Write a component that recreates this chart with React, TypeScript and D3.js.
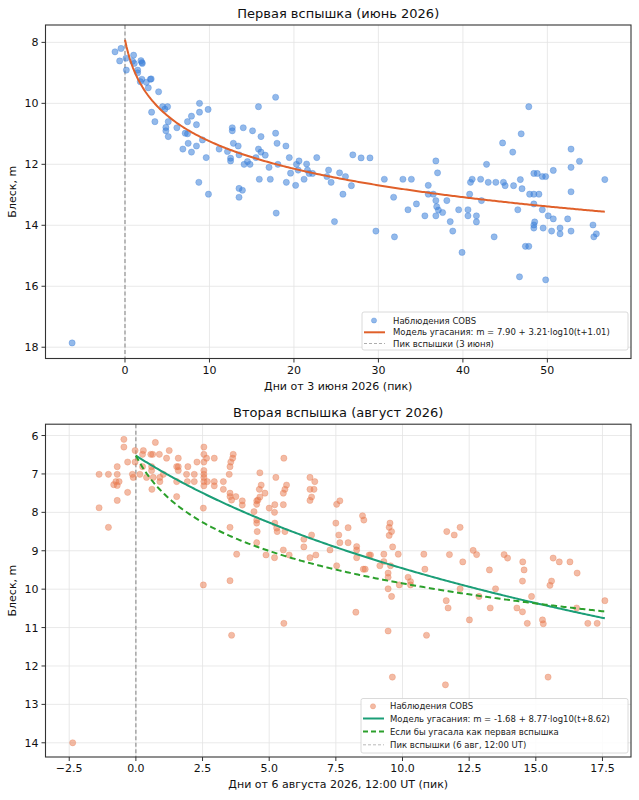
import React from "react";
import * as d3 from "d3";

const FONT = '"DejaVu Sans", "Liberation Sans", sans-serif';

// ---------- Flare 1 (June 2026) ----------
const flare1Obs: [number, number][] = [
  [-6.26, 17.86],
  [-1.18, 8.31], [-0.47, 8.2], [-0.63, 8.61], [0.12, 8.52], [0.16, 8.91], [1.02, 8.42], [1.1, 8.69], [0.9, 8.62],
  [1.5, 8.91], [1.5, 9.0], [1.89, 8.6], [2.05, 8.69], [2.0, 8.66], [2.0, 9.21], [3.0, 9.21], [3.1, 9.2], [1.81, 9.29],
  [2.52, 9.31], [2.76, 9.49], [3.98, 9.62], [4.45, 10.11], [4.72, 10.19], [5.04, 10.11], [3.15, 10.29], [3.54, 10.6],
  [4.84, 10.79], [4.84, 10.9], [5.12, 10.6], [5.12, 11.09], [6.14, 10.8], [7.13, 10.98], [7.4, 11.0], [7.4, 10.6],
  [7.87, 10.42], [8.82, 10.0], [8.82, 10.29], [9.84, 10.2], [8.46, 10.7], [6.85, 11.5], [7.48, 11.31], [7.87, 11.6],
  [8.46, 11.4], [9.17, 11.2], [9.61, 11.78], [8.74, 12.59], [9.88, 12.98], [11.14, 11.5], [12.13, 11.58], [12.5, 11.8],
  [12.5, 11.89], [12.7, 10.8], [12.7, 10.9], [12.83, 11.31], [13.4, 11.4], [13.5, 11.69], [14.0, 10.8], [14.1, 12.0],
  [14.5, 11.91], [14.8, 12.0], [15.1, 10.9], [15.5, 11.78], [15.8, 10.11], [15.8, 11.5], [16.1, 11.09], [16.1, 11.6],
  [16.6, 11.7], [15.9, 12.49], [17.05, 12.1], [17.2, 12.49], [17.83, 9.8], [17.83, 10.98], [18.0, 11.31], [18.1, 12.0],
  [19.05, 11.4], [19.45, 11.78], [19.6, 12.29], [19.1, 12.59], [20.2, 12.69], [20.3, 12.0], [20.6, 11.89], [13.5, 12.79],
  [13.5, 13.08], [17.9, 13.6], [13.9, 12.85],
  [20.5, 12.19], [21.2, 12.49], [21.5, 11.99], [21.6, 12.19], [21.8, 12.3], [22.2, 12.3], [22.7, 11.78], [23.9, 12.4],
  [24.1, 12.19], [24.4, 12.59], [24.8, 13.88], [25.4, 12.28], [25.8, 12.98], [26.1, 12.4], [26.8, 12.7], [26.97, 11.69],
  [27.95, 11.79], [29.0, 11.79], [29.7, 14.19], [30.7, 12.49], [31.8, 13.08], [31.9, 14.38], [32.9, 12.49], [33.5, 13.49],
  [33.9, 12.49], [34.5, 13.3], [35.5, 13.69], [35.9, 12.69], [35.9, 12.98], [36.5, 12.98], [36.8, 11.89], [37.0, 12.28],
  [36.8, 13.19], [36.9, 13.39], [37.1, 13.5], [36.8, 13.69], [37.6, 13.58], [38.1, 13.19], [38.5, 13.88], [38.8, 14.19],
  [39.5, 13.49], [39.9, 14.89], [40.6, 13.49], [40.6, 13.69], [40.8, 12.98], [40.9, 12.59], [41.1, 12.49], [41.6, 13.69],
  [41.6, 13.89], [42.1, 12.49], [42.2, 13.19], [42.8, 12.0], [43.0, 12.59],
  [43.7, 14.38], [43.9, 12.59], [44.7, 11.3], [44.8, 12.59], [45.0, 12.7], [45.9, 11.6], [46.0, 12.7], [46.5, 13.49],
  [46.8, 12.5], [46.9, 11.0], [47.0, 12.8], [46.7, 15.69], [47.4, 14.69], [47.8, 14.69], [47.8, 10.11], [47.9, 12.98],
  [48.4, 12.98], [48.4, 12.3], [48.8, 12.3], [49.0, 12.98], [48.4, 13.3], [48.5, 13.89], [48.4, 13.99], [48.4, 14.09],
  [49.4, 13.49], [49.4, 12.4], [49.8, 12.4], [49.5, 14.09], [49.8, 15.79], [50.1, 13.69], [50.5, 14.19], [50.7, 12.2],
  [50.7, 13.79], [51.5, 14.09], [51.5, 14.28], [52.4, 13.79], [52.8, 11.5], [52.8, 12.1], [52.8, 12.9], [52.8, 14.19],
  [53.8, 11.9], [55.4, 13.99], [55.5, 14.38], [55.8, 14.28], [56.8, 12.5],
];
const flare1Model = { a: 7.9, b: 3.21, c: 1.01 };
const flare1XTicks = [0, 10, 20, 30, 40, 50];
const flare1YTicks = [8, 10, 12, 14, 16, 18];

// ---------- Flare 2 (August 2026) ----------
const flare2Obs: [number, number][] = [
  [-2.37, 14.0],
  [-0.45, 6.1], [-0.45, 6.3], [0.73, 6.18], [-0.03, 6.39], [0.28, 6.39], [0.25, 6.49], [0.56, 6.49], [0.63, 6.49],
  [0.88, 6.49], [1.25, 6.39], [1.15, 6.59], [1.59, 6.59], [-0.31, 6.69], [-0.03, 6.69], [-0.7, 6.81], [-1.38, 7.01],
  [-1.03, 7.01], [-0.7, 7.01], [-0.13, 7.01], [-0.1, 7.09], [0.15, 7.01], [0.4, 7.09], [0.25, 6.81], [0.59, 6.81],
  [0.59, 6.91], [0.65, 7.09], [0.9, 7.09], [0.9, 7.2], [1.03, 7.01], [0.6, 7.4], [-0.83, 7.28], [-0.63, 7.2],
  [-0.75, 7.2], [-0.7, 7.3], [-0.31, 7.48], [-0.7, 7.69], [-1.38, 7.88], [-1.03, 8.39], [1.53, 6.81], [1.59, 6.81],
  [1.59, 6.91], [1.53, 7.2], [1.53, 7.59], [1.9, 7.01], [1.93, 7.2], [1.95, 6.81], [2.19, 7.2], [2.19, 7.01],
  [2.29, 6.69], [2.55, 6.3], [2.55, 6.49], [2.55, 6.69], [2.55, 6.91], [2.55, 7.01], [2.55, 7.09], [2.55, 7.2],
  [2.55, 7.31], [2.65, 6.59], [2.94, 6.59], [2.68, 7.2], [2.94, 7.2], [2.94, 7.31], [2.53, 7.89], [2.53, 9.89],
  [3.28, 7.4], [3.28, 7.2], [3.5, 7.01], [3.53, 6.81], [3.56, 6.69], [3.63, 6.59], [3.65, 6.49], [3.53, 7.5],
  [3.53, 7.59], [3.59, 7.68], [3.75, 7.59], [3.99, 7.7], [3.99, 7.81], [3.53, 8.39], [3.78, 9.09], [3.53, 9.78],
  [3.59, 11.2],
  [5.55, 6.59], [4.65, 6.97], [5.25, 7.09], [6.53, 7.09], [6.71, 7.2], [4.7, 7.29], [5.65, 7.29], [5.59, 7.4],
  [5.53, 7.5], [6.53, 7.4], [6.68, 7.4], [4.63, 7.4], [4.84, 7.5], [6.59, 7.6], [6.53, 7.69], [4.65, 7.6],
  [4.53, 7.7], [4.53, 7.79], [4.58, 7.68], [5.21, 7.8], [5.53, 7.8], [5.0, 7.89], [7.65, 7.7], [7.53, 7.79],
  [4.43, 7.98], [5.2, 8.0], [4.53, 8.2], [4.53, 8.28], [4.55, 8.5], [5.21, 8.28], [5.28, 8.41], [5.3, 8.5],
  [5.59, 8.5], [4.53, 8.79], [4.88, 9.11], [5.2, 9.18], [5.53, 8.98], [5.75, 9.11], [6.3, 8.7], [6.59, 8.59],
  [6.3, 8.9], [6.53, 9.18], [6.75, 9.11], [7.28, 8.98], [7.5, 8.28], [7.61, 8.59], [7.96, 8.4], [7.65, 8.79],
  [7.96, 8.79], [7.53, 9.39], [8.28, 8.89], [8.28, 8.98], [8.28, 9.18], [8.5, 8.09], [8.55, 8.2], [8.75, 9.11],
  [8.8, 9.11], [8.53, 9.48], [8.6, 9.48], [8.25, 10.6], [9.15, 9.39], [9.3, 9.09], [9.3, 9.28], [9.53, 8.28],
  [9.5, 8.39], [9.59, 8.5], [9.5, 8.6], [9.63, 8.9], [9.84, 9.09], [9.55, 9.39], [9.46, 9.58], [9.46, 9.69],
  [9.46, 9.99], [9.59, 10.19], [9.46, 11.09], [9.88, 9.89], [10.21, 9.69], [10.3, 9.8], [10.3, 9.89], [10.8, 9.09],
  [10.84, 9.48], [10.9, 11.2], [5.55, 10.89], [9.62, 12.29], [11.61, 12.49],
  [11.66, 8.5], [11.94, 8.59], [12.16, 8.39], [11.76, 9.1], [12.26, 9.29], [12.65, 8.99], [12.78, 9.1], [13.26, 9.5],
  [13.81, 9.1], [13.94, 9.19], [14.51, 9.29], [14.56, 9.5], [14.5, 9.79], [15.65, 9.19], [15.88, 9.29], [16.28, 9.29],
  [16.55, 9.58], [15.59, 9.79], [15.53, 9.9], [13.49, 9.99], [14.84, 10.19], [12.87, 10.19], [12.16, 9.99],
  [11.64, 10.3], [11.71, 10.49], [12.51, 10.8], [13.29, 10.49], [14.29, 10.49], [14.5, 10.59], [14.68, 10.89],
  [15.25, 10.8], [15.28, 10.9], [16.53, 10.49], [16.95, 10.89], [17.3, 10.89], [17.59, 10.3], [15.46, 12.29],
];
const flare2Model = { a: -1.68, b: 8.77, c: 8.62 };
const flare2AsFirst = { a: 6.506, b: 3.21, c: 1.01 };
const flare2XTicks = [-2.5, 0, 2.5, 5, 7.5, 10, 12.5, 15, 17.5];
const flare2YTicks = [6, 7, 8, 9, 10, 11, 12, 13, 14];

const BLUE = "#3a7fd8";
const ORANGE_LINE = "#e0602a";
const ORANGE_PTS = "#e8784c";
const GREEN = "#1b9e77";
const GREEN_DASH = "#2ca02c";
const GRAY = "#8a8a8a";

type Curve = { m: { a: number; b: number; c: number }; color: string; dash?: string };
type LegendItem = { kind: "pt" | "line"; color: string; dash?: string; width: number; label: string; opacity?: number };

const modelPoints = (m: { a: number; b: number; c: number }, tMax: number) =>
  d3.range(0, tMax, tMax / 300).concat([tMax]).map((t) => [t, m.a + m.b * Math.log10(t + m.c)] as [number, number]);

function Panel(props: {
  top: number; bottom: number; left: number; right: number;
  xDomain: [number, number]; yDomain: [number, number];
  xTicks: number[]; yTicks: number[]; xFmt: (v: number) => string;
  title: string; xLabel: string;
  obs: [number, number][]; ptColor: string; ptOpacity: number; curves: Curve[];
  legend: { x0: number; x1: number; y0: number; y1: number; rows: number[]; textX: number; items: LegendItem[] };
}) {
  const { top, bottom, left, right, obs, legend } = props;
  const x = d3.scaleLinear().domain(props.xDomain).range([left, right]);
  const y = d3.scaleLinear().domain(props.yDomain).range([top, bottom]);
  const tMax = d3.max(obs, (d) => d[0]) as number;
  const line = d3.line<[number, number]>().x((d) => x(d[0])).y((d) => y(d[1]));
  const cy = (top + bottom) / 2;
  return (
    <g>
      <text x={(left + right) / 2} y={top - 7} textAnchor="middle" fontSize={13} fill="#111">{props.title}</text>
      {props.xTicks.map((t) => (
        <line key={"gx" + t} x1={x(t)} x2={x(t)} y1={top} y2={bottom} stroke="#e3e3e3" strokeWidth={0.8} />
      ))}
      {props.yTicks.map((t) => (
        <line key={"gy" + t} x1={left} x2={right} y1={y(t)} y2={y(t)} stroke="#e3e3e3" strokeWidth={0.8} />
      ))}
      <line x1={x(0)} x2={x(0)} y1={top} y2={bottom} stroke={GRAY} strokeWidth={1.1} strokeDasharray="4,2.5" />
      {obs.map((d, i) => (
        <circle key={i} cx={x(d[0])} cy={y(d[1])} r={3.1} fill={props.ptColor} fillOpacity={props.ptOpacity}
          stroke={props.ptColor} strokeOpacity={props.ptOpacity} strokeWidth={0.6} />
      ))}
      {props.curves.map((c, i) => (
        <path key={i} d={line(modelPoints(c.m, tMax)) || ""} fill="none" stroke={c.color} strokeWidth={2}
          strokeDasharray={c.dash} />
      ))}
      <rect x={left} y={top} width={right - left} height={bottom - top} fill="none" stroke="#333" strokeWidth={1.1} />
      {props.xTicks.map((t) => (
        <g key={"tx" + t}>
          <line x1={x(t)} x2={x(t)} y1={bottom} y2={bottom + 4} stroke="#333" />
          <text x={x(t)} y={bottom + 15} textAnchor="middle" fontSize={11} fill="#111">{props.xFmt(t)}</text>
        </g>
      ))}
      {props.yTicks.map((t) => (
        <g key={"ty" + t}>
          <line x1={left - 4} x2={left} y1={y(t)} y2={y(t)} stroke="#333" />
          <text x={left - 7} y={y(t) + 4} textAnchor="end" fontSize={11} fill="#111">{t}</text>
        </g>
      ))}
      <text x={(left + right) / 2} y={bottom + 31} textAnchor="middle" fontSize={11} fill="#111">{props.xLabel}</text>
      <text transform={`translate(16,${cy}) rotate(-90)`} textAnchor="middle" fontSize={11} fill="#111">Блеск, m</text>
      <rect x={legend.x0} y={legend.y0} width={legend.x1 - legend.x0} height={legend.y1 - legend.y0} rx={2}
        fill="#fff" fillOpacity={0.85} stroke="#d0d0d0" strokeWidth={0.8} />
      {legend.items.map((it, i) => {
        const ry = legend.rows[i];
        return (
          <g key={"lg" + i}>
            {it.kind === "pt" ? (
              <circle cx={legend.x0 + 12} cy={ry} r={2.6} fill={it.color} fillOpacity={props.ptOpacity} stroke={it.color} strokeOpacity={props.ptOpacity} strokeWidth={0.6} />
            ) : (
              <line x1={legend.x0 + 2} x2={legend.x0 + 23} y1={ry} y2={ry} stroke={it.color} strokeWidth={it.width}
                strokeDasharray={it.dash} strokeOpacity={it.opacity ?? 1} />
            )}
            <text x={legend.textX} y={ry + 3} fontSize={8.5} fill="#222">{it.label}</text>
          </g>
        );
      })}
    </g>
  );
}

export default function App() {
  const fmt2 = (v: number) => (v < 0 ? "\u2212" + Math.abs(v).toFixed(1) : v.toFixed(1));
  return (
    <svg width={639} height={800} style={{ position: "absolute", left: 0, top: 0, background: "#fff", fontFamily: FONT }}>
      <rect width={639} height={800} fill="#fff" />
      <Panel
        top={25} bottom={358.5} left={45.5} right={631}
        xDomain={[-9.41, 59.9]} yDomain={[7.43, 18.37]}
        xTicks={flare1XTicks} yTicks={flare1YTicks} xFmt={(v) => String(v)}
        title="Первая вспышка (июнь 2026)" xLabel="Дни от 3 июня 2026 (пик)"
        obs={flare1Obs} ptColor={BLUE} ptOpacity={0.55}
        curves={[{ m: flare1Model, color: ORANGE_LINE }]}
        legend={{
          x0: 362, x1: 628, y0: 312, y1: 350, rows: [320.5, 332.3, 343.5], textX: 393,
          items: [
            { kind: "pt", color: BLUE, width: 0, label: "Наблюдения COBS" },
            { kind: "line", color: ORANGE_LINE, width: 2, label: "Модель угасания: m = 7.90 + 3.21·log10(t+1.01)" },
            { kind: "line", color: GRAY, width: 1, dash: "3,2", opacity: 0.7, label: "Пик вспышки (3 июня)" },
          ],
        }}
      />
      <Panel
        top={424.2} bottom={757} left={45.5} right={631}
        xDomain={[-3.39, 18.57]} yDomain={[5.705, 14.37]}
        xTicks={flare2XTicks} yTicks={flare2YTicks} xFmt={fmt2}
        title="Вторая вспышка (август 2026)" xLabel="Дни от 6 августа 2026, 12:00 UT (пик)"
        obs={flare2Obs} ptColor={ORANGE_PTS} ptOpacity={0.5}
        curves={[{ m: flare2Model, color: GREEN }, { m: flare2AsFirst, color: GREEN_DASH, dash: "6,3.5" }]}
        legend={{
          x0: 361, x1: 628, y0: 698.5, y1: 753, rows: [706.3, 718.5, 731.6, 744.8], textX: 390,
          items: [
            { kind: "pt", color: ORANGE_PTS, width: 0, label: "Наблюдения COBS" },
            { kind: "line", color: GREEN, width: 2, label: "Модель угасания: m = -1.68 + 8.77·log10(t+8.62)" },
            { kind: "line", color: GREEN_DASH, width: 2, dash: "5,3", label: "Если бы угасала как первая вспышка" },
            { kind: "line", color: GRAY, width: 1, dash: "3,2", opacity: 0.6, label: "Пик вспышки (6 авг, 12:00 UT)" },
          ],
        }}
      />
    </svg>
  );
}
